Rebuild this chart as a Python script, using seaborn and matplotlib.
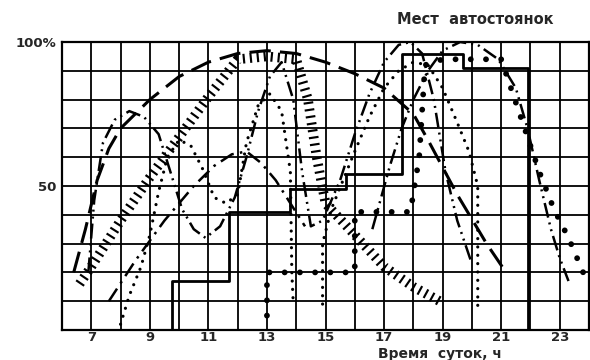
import matplotlib
matplotlib.use("Agg")
import matplotlib.pyplot as plt
import seaborn as sns
import pandas as pd

# ---- data (hours of day, % of parking places occupied) ----
long_dash_h = [6.4, 6.8, 7.2, 7.6, 8.0, 9.0, 10.0, 11.0, 12.0, 13.0, 14.0, 15.0, 16.0, 17.0, 18.0, 18.5, 19.5, 20.5, 21.1]
long_dash_v = [20, 35, 52, 63, 70, 80, 88, 93, 96, 97, 96, 93, 89, 84, 75, 66, 47, 30, 21]

hatch_h = [6.6, 7.0, 8.0, 9.0, 10.0, 11.0, 12.0, 13.0, 14.0, 14.4, 14.7, 15.0, 16.0, 17.0, 18.0, 18.9]
hatch_v = [16, 22, 38, 53, 67, 81, 94, 95, 94, 80, 60, 44, 33, 22, 15, 10]

dd_left_h = [6.9, 7.1, 7.4, 7.8, 8.3, 8.8, 9.3, 9.7, 10.1, 10.5, 10.9, 11.4, 11.9, 12.3, 12.7, 13.1, 13.5, 13.9, 14.2, 14.5, 14.9, 15.5, 16.0, 16.5, 17.0, 17.5, 17.9, 18.3, 18.7, 19.1, 19.5, 20.0]
dd_left_v = [20, 45, 65, 73, 76, 74, 68, 55, 42, 35, 32, 36, 46, 60, 76, 88, 93, 80, 55, 36, 38, 52, 68, 82, 93, 99, 100, 96, 80, 55, 38, 23]

dashdot_h = [7.6, 8.5, 9.5, 10.5, 11.2, 11.8, 12.3, 12.8, 13.3, 13.8, 14.3]
dashdot_v = [10, 24, 38, 50, 57, 61, 62, 58, 52, 44, 36]

dd_right_h = [16.6, 17.2, 17.6, 18.0, 18.5, 19.0, 19.6, 20.2, 20.9, 21.5, 21.9, 22.3, 22.7, 23.0, 23.3]
dd_right_v = [35, 57, 70, 80, 90, 97, 100, 99, 94, 84, 70, 52, 35, 25, 17]

dot_a_h = [8.0, 8.3, 8.7, 9.0, 9.3, 9.6, 10.0, 10.4, 10.8, 11.2, 11.6, 12.0, 12.3, 12.7, 13.1, 13.5, 13.8, 13.85, 13.9]
dot_a_v = [2, 12, 22, 33, 48, 60, 66, 64, 56, 46, 44, 47, 65, 78, 82, 76, 55, 20, 9]

dot_b_h = [14.9, 14.9, 15.2, 15.6, 16.0, 16.5, 17.0, 17.5, 18.0, 18.5, 19.0, 19.5, 19.9, 20.2, 20.2]
dot_b_v = [9, 30, 42, 52, 62, 74, 84, 90, 93, 92, 84, 72, 62, 50, 7]

bigdot_h = [13.0, 13.0, 14.0, 15.0, 16.0, 16.0, 17.0, 17.9, 18.2, 18.4, 19.0, 20.0, 21.0, 21.3, 21.8, 22.3, 22.8, 23.3, 23.8]
bigdot_v = [5, 20, 20, 20, 20, 41, 41, 41, 60, 92, 94, 94, 94, 85, 70, 55, 42, 32, 20]

solid_h = [9.75, 9.75, 11.7, 11.7, 13.8, 13.8, 15.7, 15.7, 17.6, 17.6, 19.7, 19.7, 21.9, 21.9]
solid_v = [0, 17, 17, 41, 41, 49, 49, 54, 54, 96, 96, 91, 91, 0]

x_ticks = list(range(6, 25))
x_labels = [str(h) if h % 2 == 1 and 7 <= h <= 23 else "" for h in x_ticks]
y_ticks = [0, 10, 20, 30, 40, 50, 60, 70, 80, 90, 100]
y_labels = ["", "", "", "", "", "50", "", "", "", "", "100%"]

sns.set_theme(style="white")
plt.rcParams['font.family'] = ['DejaVu Sans']

fig = plt.figure(figsize=(5.9, 3.6), dpi=100)
ax = fig.add_axes([62/590, 30/360, (589-62)/590, (330-42)/360])

def draw(h, v, **kw):
    df = pd.DataFrame({"h": h, "v": v})
    sns.lineplot(data=df, x="h", y="v", ax=ax, estimator=None, sort=False,
                 color="black", legend=False, **kw)

draw(hatch_h, hatch_v, lw=7, linestyle=(0, (0.22, 0.5)), dash_capstyle="butt")
draw(long_dash_h, long_dash_v, lw=2.2, linestyle=(0, (7, 3)))
draw(dd_left_h, dd_left_v, lw=1.8, linestyle=(0, (6, 2, 0.8, 2, 0.8, 2)))
draw(dashdot_h, dashdot_v, lw=1.8, linestyle=(0, (6, 2.5, 1, 2.5)))
draw(dd_right_h, dd_right_v, lw=1.8, linestyle=(0, (6, 2, 0.8, 2, 0.8, 2)))
draw(dot_a_h, dot_a_v, lw=2.3, linestyle=(0, (0.01, 2.6)), dash_capstyle="round")
draw(dot_b_h, dot_b_v, lw=2.3, linestyle=(0, (0.01, 2.6)), dash_capstyle="round")
draw(bigdot_h, bigdot_v, lw=4.2, linestyle=(0, (0.01, 2.6)), dash_capstyle="round")
draw(solid_h, solid_v, lw=2.0, linestyle="-")

ax.set_xlim(6, 24)
ax.set_ylim(0, 100)
ax.set_xticks(x_ticks)
ax.set_xticklabels(x_labels, fontsize=9.5, fontweight="bold")
ax.set_yticks(y_ticks)
ax.set_yticklabels(y_labels, fontsize=9.5, fontweight="bold")
ax.tick_params(axis="x", length=0, pad=1)
ax.tick_params(axis="y", length=0, pad=4)
ax.grid(True, color="black", lw=1.3)
ax.set_axisbelow(True)
for s in ax.spines.values():
    s.set_color("black")
    s.set_linewidth(1.6)
ax.set_xlabel("")
ax.set_ylabel("")

fig.text(0.805, 0.945, "Мест  автостоянок", ha="center", va="center", fontsize=10.5, fontweight="bold")
fig.text(0.745, 0.018, "Время  суток, ч", ha="center", va="center", fontsize=10, fontweight="bold")

fig.savefig("out.png", dpi=100)
